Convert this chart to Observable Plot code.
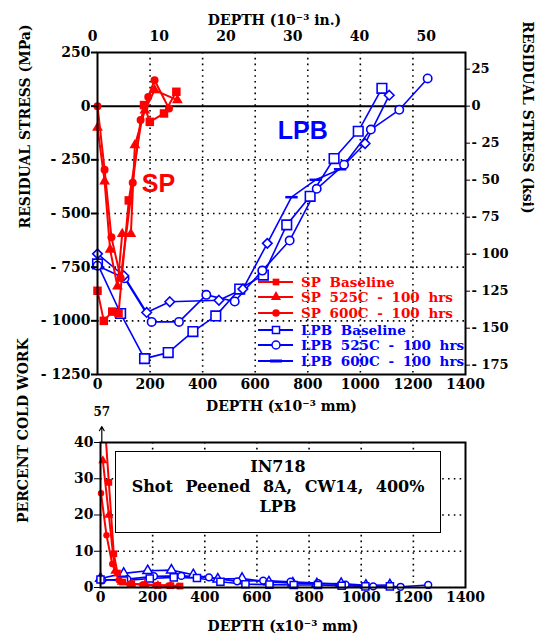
<!DOCTYPE html>
<html><head><meta charset="utf-8">
<script src="https://cdn.jsdelivr.net/npm/d3@7"></script>
<script src="https://cdn.jsdelivr.net/npm/@observablehq/plot@0.6"></script>
<style>
html,body{margin:0;padding:0;background:#fff;}
#wrap{position:relative;width:541px;height:637px;overflow:hidden;background:#fff;}
#wrap svg{position:absolute;left:0;overflow:visible;}
#box{position:absolute;left:115px;top:451px;width:326px;height:82px;border:1.5px solid #000;background:#fff;
 font-family:"DejaVu Serif",serif;font-weight:bold;font-size:16px;text-align:center;line-height:20px;padding-top:5px;box-sizing:border-box;word-spacing:7px;}
</style></head><body><div id="wrap"></div>
<script>
// ---------- constants ----------
const MPA_PER_KSI = 6.89476;
const MM_PER_IN = 25.4;

// ---------- ticks ----------
const depthTicks = [0, 200, 400, 600, 800, 1000, 1200, 1400];
const depthGrid = [200, 400, 600, 800, 1000, 1200];
const stressTicks = [250, 0, -250, -500, -750, -1000, -1250];
const stressGrid = [-250, -500, -750, -1000];
const ksiTicks = [25, 0, -25, -50, -75, -100, -125, -150, -175];
const inchTicks = [0, 10, 20, 30, 40, 50];
const cwTicks = [0, 10, 20, 30, 40];
const cwGrid = [10, 20, 30];

// ---------- residual stress (MPa) vs depth (x10^-3 mm) ----------
const spBaseDepth   = [0, 24, 56, 80, 119, 177, 199, 253, 300];
const spBaseStress  = [-860, -1000, -957, -965, -439, 5, -73, -34, 67];
const sp525Depth    = [0, 27, 48, 76, 94, 127, 142, 180, 217, 304];
const sp525Stress   = [-100, -350, -668, -840, -595, -595, -182, -20, 75, 28];
const sp600Depth    = [0, 27, 53, 88, 134, 164, 193, 217, 272];
const sp600Stress   = [0, -296, -611, -800, -357, -65, 43, 121, -11];

const lpbBaseDepth  = [0, 88, 179, 269, 363, 450, 541, 631, 720, 809, 900, 992, 1082];
const lpbBaseStress = [-735, -966, -1176, -1148, -1050, -977, -852, -787, -553, -420, -244, -117, 83];
const lpb525Depth   = [0, 103, 206, 310, 414, 522, 627, 731, 834, 938, 1040, 1148, 1256];
const lpb525Stress  = [-743, -802, -1005, -1005, -879, -910, -766, -626, -385, -273, -109, -17, 129];
const lpb600Depth   = [0, 100, 187, 275, 462, 553, 646, 738, 830, 923, 1018, 1110];
const lpb600Stress  = [-688, -790, -961, -911, -904, -852, -639, -424, -343, -294, -174, 51];
const lpb600DashIdx = [7, 8, 9];

// ---------- percent cold work vs depth ----------
const spBaseCwDepth = [5, 32, 51, 65, 85, 120, 170, 220, 270, 305];
const spBaseCw      = [57, 29, 9.3, 4, 1.5, 1, 0.8, 0.6, 0.5, 0.4];
const sp525CwDepth  = [9, 32, 55, 80, 120, 170, 220, 270];
const sp525Cw       = [35, 20, 4.5, 1.5, 1, 0.8, 0.6, 0.5];
const sp600CwDepth  = [2, 23, 45, 70, 110, 160, 210, 260, 300];
const sp600Cw       = [26, 14.4, 6.5, 2, 1, 0.8, 0.6, 0.5, 0.4];

const lpbBaseCwDepth = [0, 90, 189, 281, 370, 460, 556, 648, 741, 834, 925, 1016, 1110];
const lpbBaseCw      = [2.2, 1.9, 2.5, 2.8, 2.6, 1.6, 0.9, 0.8, 0.7, 0.7, 0.5, 0.3, 0.3];
const lpb525CwDepth  = [6, 103, 205, 310, 416, 524, 624, 729, 835, 940, 1046, 1151, 1257];
const lpb525Cw       = [2.0, 2.3, 3.1, 3.2, 2.8, 1.7, 1.9, 1.6, 1.2, 0.8, 0.3, 0.2, 0.7];
const lpb600CwDepth  = [0, 89, 181, 272, 356, 450, 543, 646, 738, 830, 923, 1018, 1110];
const lpb600Cw       = [2.5, 3.9, 4.6, 4.8, 3.5, 2.3, 2.5, 1.5, 1.2, 1.0, 1.1, 0.6, 0.7];

// ---------- texts ----------
const legendLabels = ["SP Baseline", "SP 525C - 100 hrs", "SP 600C - 100 hrs",
                      "LPB Baseline", "LPB 525C - 100 hrs", "LPB 600C - 100 hrs"];
const regionLabels = ["SP", "LPB"];
const regionDepth  = [232, 781];
const regionStress = [-364, -117];
const boxLines = ["IN718", "Shot Peened 8A, CW14, 400%", "LPB"];

// ---------- helpers ----------
const RED = "#ff0000", BLUE = "#0000ff";
const pts = (ds, vs) => ds.map((d, i) => ({d, v: vs[i], i}));
const fmt = v => v < 0 ? "- " + Math.abs(v) : String(v);
const plain = v => String(v);
const dashSymbol = {draw(ctx, size) { const w = Math.sqrt(size) * 0.7; ctx.moveTo(-w, 0); ctx.lineTo(w, 0); }};
const FONT = "'DejaVu Serif', serif";
const dotted = {stroke: "black", strokeWidth: 1.6, strokeDasharray: "1.6,4.2"};

const spBase = pts(spBaseDepth, spBaseStress), sp525 = pts(sp525Depth, sp525Stress), sp600 = pts(sp600Depth, sp600Stress);
const lpbBase = pts(lpbBaseDepth, lpbBaseStress), lpb525 = pts(lpb525Depth, lpb525Stress), lpb600 = pts(lpb600Depth, lpb600Stress);
const regions = regionLabels.map((t, i) => ({t, d: regionDepth[i], v: regionStress[i], c: i === 0 ? RED : BLUE}));

const wrap = document.getElementById("wrap");

// ---------- top chart ----------
const topPlot = Plot.plot({
  width: 541, height: 420,
  marginLeft: 97, marginRight: 76, marginTop: 52, marginBottom: 46,
  x: {domain: [0, 1400]},
  y: {domain: [-1250, 250]},
  style: {fontFamily: FONT, fontWeight: "bold", fontSize: "14px", color: "black", background: "transparent"},
  marks: [
    Plot.ruleX(depthGrid, dotted),
    Plot.ruleY(stressGrid, dotted),
    Plot.ruleY([0], {stroke: "black", strokeWidth: 2}),
    // LPB
    Plot.line(lpbBase, {x: "d", y: "v", stroke: BLUE, strokeWidth: 1.6}),
    Plot.line(lpb525, {x: "d", y: "v", stroke: BLUE, strokeWidth: 1.6}),
    Plot.line(lpb600, {x: "d", y: "v", stroke: BLUE, strokeWidth: 1.6}),
    Plot.dot(lpbBase, {x: "d", y: "v", symbol: "square", r: 5.4, fill: "white", stroke: BLUE, strokeWidth: 1.6}),
    Plot.dot(lpb525, {x: "d", y: "v", symbol: "circle", r: 4.2, fill: "white", stroke: BLUE, strokeWidth: 1.6}),
    Plot.dot(lpb600.filter(p => !lpb600DashIdx.includes(p.i)), {x: "d", y: "v", symbol: "diamond2", r: 4.3, fill: "white", stroke: BLUE, strokeWidth: 1.6}),
    Plot.dot(lpb600.filter(p => lpb600DashIdx.includes(p.i)), {x: "d", y: "v", symbol: dashSymbol, r: 5, fill: "none", stroke: BLUE, strokeWidth: 2.5}),
    // SP
    Plot.line(spBase, {x: "d", y: "v", stroke: RED, strokeWidth: 2}),
    Plot.line(sp525, {x: "d", y: "v", stroke: RED, strokeWidth: 2}),
    Plot.line(sp600, {x: "d", y: "v", stroke: RED, strokeWidth: 2}),
    Plot.dot(spBase, {x: "d", y: "v", symbol: "square", r: 4.8, fill: RED, stroke: "none"}),
    Plot.dot(sp525, {x: "d", y: "v", symbol: "triangle", r: 4, fill: RED, stroke: "none"}),
    Plot.dot(sp600, {x: "d", y: "v", symbol: "circle", r: 4, fill: RED, stroke: "none"}),
    Plot.text(regions, {x: "d", y: "v", text: "t", fill: "c", fontFamily: "'Liberation Sans', Arial, sans-serif", fontWeight: "bold", fontSize: 25}),
    Plot.frame({stroke: "black", strokeWidth: 2}),
    Plot.axisY({ticks: stressTicks, tickFormat: fmt, tickSize: 6, tickPadding: 1, label: null, fontSize: 14, strokeWidth: 2}),
    Plot.axisY({anchor: "right", ticks: ksiTicks.map(k => k * MPA_PER_KSI), tickFormat: v => fmt(Math.round(v / MPA_PER_KSI)), tickSize: 4, tickPadding: 2, label: null, fontSize: 13}),
    Plot.axisX({ticks: depthTicks, tickFormat: plain, tickSize: 0, tickPadding: 5, label: null, fontSize: 14}),
    Plot.axisX({anchor: "top", ticks: inchTicks.map(v => v * MM_PER_IN), tickFormat: v => String(Math.round(v / MM_PER_IN)), tickSize: 0, tickPadding: 12, dx: -5, label: null, fontSize: 14}),
    Plot.text(["DEPTH (x10\u207B\u00B3 mm)"], {text: d => d, frameAnchor: "bottom", dy: 36, fontSize: 14}),
    Plot.text(["DEPTH (10\u207B\u00B3 in.)"], {text: d => d, frameAnchor: "top", dy: -37, dx: -7, fontSize: 14}),
    Plot.text(["RESIDUAL STRESS (MPa)"], {text: d => d, frameAnchor: "left", rotate: -90, dx: -72, dy: 15, fontSize: 14}),
    Plot.text(["RESIDUAL STRESS (ksi)"], {text: d => d, frameAnchor: "right", rotate: 90, dx: 62, fontSize: 14})
  ]
});
topPlot.style.top = "0px";
wrap.appendChild(topPlot);

// ---------- bottom chart ----------
const cwSeries = [
  {data: pts(spBaseCwDepth, spBaseCw), c: RED, s: "square", open: false, r: 3.8},
  {data: pts(sp525CwDepth, sp525Cw), c: RED, s: "triangle", open: false, r: 3.4},
  {data: pts(sp600CwDepth, sp600Cw), c: RED, s: "circle", open: false, r: 3.2},
  {data: pts(lpbBaseCwDepth, lpbBaseCw), c: BLUE, s: "square", open: true, r: 4},
  {data: pts(lpb525CwDepth, lpb525Cw), c: BLUE, s: "circle", open: true, r: 3.4},
  {data: pts(lpb600CwDepth, lpb600Cw), c: BLUE, s: "triangle", open: true, r: 3.6}
];
const allCw = cwSeries.flatMap(s => s.data);
const peak = allCw.reduce((a, b) => b.v > a.v ? b : a);
const cwMax = cwTicks[cwTicks.length - 1];

const botPlot = Plot.plot({
  width: 541, height: 217,
  marginLeft: 100, marginRight: 76, marginTop: 22, marginBottom: 50,
  x: {domain: [0, 1400]},
  y: {domain: [0, cwMax]},
  style: {fontFamily: FONT, fontWeight: "bold", fontSize: "14px", color: "black", background: "transparent"},
  marks: [
    Plot.ruleX(depthGrid, dotted),
    Plot.ruleY(cwGrid, dotted),
    ...cwSeries.slice().reverse().map(s => Plot.line(s.data, {x: "d", y: "v", stroke: s.c, strokeWidth: s.open ? 1.6 : 2, clip: true})),
    ...cwSeries.slice().reverse().map(s => Plot.dot(s.data.filter(p => p.v <= cwMax), {x: "d", y: "v", symbol: s.s, r: s.r,
        fill: s.open ? "white" : s.c, stroke: s.open ? s.c : "none", strokeWidth: 1.5})),
    Plot.arrow([peak], {x1: "d", x2: "d", y1: () => cwMax, y2: () => cwMax * 1.11, stroke: "black", strokeWidth: 1.2, headLength: 6}),
    Plot.text([peak], {x: "d", y: () => cwMax * 1.21, text: p => String(p.v), fontSize: 12}),
    Plot.frame({stroke: "black", strokeWidth: 2}),
    Plot.axisY({ticks: cwTicks, tickSize: 6, tickPadding: 1, label: null, fontSize: 14}),
    Plot.axisX({ticks: depthTicks, tickFormat: plain, tickSize: 0, tickPadding: 5, label: null, fontSize: 14}),
    Plot.text(["DEPTH (x10\u207B\u00B3 mm)"], {text: d => d, frameAnchor: "bottom", dy: 43, fontSize: 14}),
    Plot.text(["PERCENT COLD WORK"], {text: d => d, frameAnchor: "left", rotate: -90, dx: -77, dy: 8, fontSize: 14})
  ]
});
botPlot.style.top = "420px";
wrap.appendChild(botPlot);

// ---------- annotation box ----------
const box = document.createElement("div");
box.id = "box";
box.innerHTML = boxLines.join("<br>");
wrap.appendChild(box);

// ---------- legend (overlay) ----------
const leg = d3.create("svg").attr("width", 541).attr("height", 420).style("top", "0px").style("pointer-events", "none");
const legendStyle = [
  {c: RED, s: d3.symbolSquare, open: false},
  {c: RED, s: d3.symbolTriangle, open: false},
  {c: RED, s: d3.symbolCircle, open: false},
  {c: BLUE, s: d3.symbolSquare, open: true},
  {c: BLUE, s: d3.symbolCircle, open: true},
  {c: BLUE, s: "dash", open: true}
];
const rowY = [282, 297, 313, 330, 345, 361];
legendLabels.forEach((t, i) => {
  const st = legendStyle[i], y = rowY[i];
  const g = leg.append("g");
  g.append("line").attr("x1", 258).attr("x2", 293).attr("y1", y).attr("y2", y).attr("stroke", st.c).attr("stroke-width", 1.8);
  if (st.s === "dash") {
    g.append("line").attr("x1", 270).attr("x2", 282).attr("y1", y).attr("y2", y).attr("stroke", st.c).attr("stroke-width", 3);
  } else {
    g.append("path").attr("d", d3.symbol(st.s, st.open ? 50 : 45)()).attr("transform", `translate(276,${y})`)
      .attr("fill", st.open ? "white" : st.c).attr("stroke", st.open ? st.c : "none").attr("stroke-width", 1.5);
  }
  g.append("text").attr("x", 301).attr("y", y + 5).text(t).attr("fill", st.c)
    .attr("font-family", FONT).attr("font-weight", "bold").attr("font-size", 13.5).attr("word-spacing", 4);
});
wrap.appendChild(leg.node());
</script>
</body></html>
